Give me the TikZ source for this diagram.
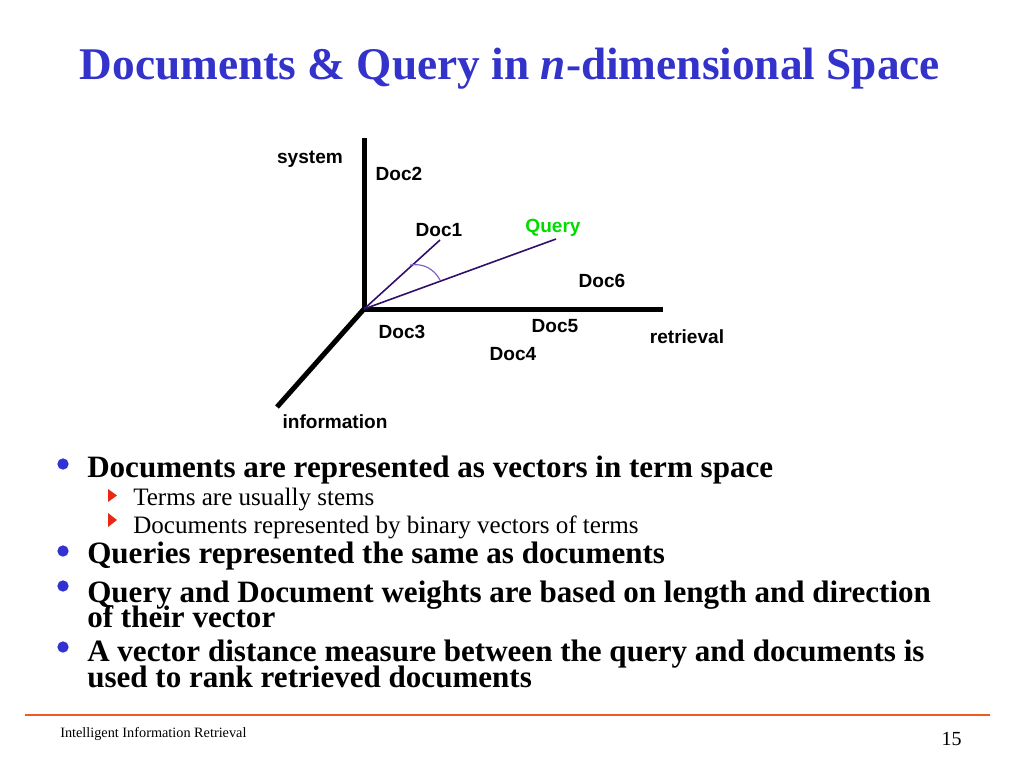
\documentclass[tikz,border=0pt]{standalone}
\usepackage{fontspec}
\setmainfont{Liberation Serif}
\newfontfamily\labfont{Liberation Sans}
\definecolor{titleblue}{RGB}{51,51,204}
\definecolor{vecpurple}{RGB}{48,16,110}
\definecolor{arcpurple}{RGB}{130,100,200}
\definecolor{qgreen}{RGB}{0,220,0}
\definecolor{footorange}{RGB}{240,90,30}
\definecolor{bulblue}{RGB}{50,50,210}
\definecolor{subred}{RGB}{230,40,20}
\begin{document}
\begin{tikzpicture}[x=0.75pt,y=-0.75pt,
  lab/.style={font=\labfont\bfseries\fontsize{14.3}{16}\selectfont, inner sep=0pt},
  axis/.style={line width=3.75pt, line join=miter},
  vec/.style={line width=1.2pt, color=vecpurple},
  main/.style={font=\bfseries\fontsize{23.3}{26}\selectfont, anchor=base west, inner sep=0pt},
  sub/.style={font=\fontsize{18.8}{22}\selectfont, anchor=base west, inner sep=0pt},
  bdot/.style={circle, fill=bulblue, minimum size=8.5pt, inner sep=0pt},
  tri/.style={fill=subred, draw=none}
]
\useasboundingbox (0,0) rectangle (1024,768);
\fill[white] (0,0) rectangle (1024,768);

% title
\node[anchor=base, inner sep=0pt, text=titleblue, font=\bfseries\fontsize{34}{40}\selectfont] (title) at (510,79)
  {Documents \& Query in \textit{n}-dimensional Space};

% axes
\coordinate (O) at (364,309);
\coordinate (Ysys) at (364,138);
\coordinate (Xret) at (663,309);
\coordinate (Zinf) at (277,407);
\draw[axis] (Ysys) -- (O) -- (Xret);
\draw[axis] (O) -- (Zinf);

% vectors
\coordinate (D1) at (440,240);
\coordinate (Q) at (556,239);
\draw[vec] (O) -- (D1);
\draw[vec] (O) -- (Q);
\coordinate (A1) at (410,265);
\coordinate (A2) at (440,280);
\draw[arcpurple, line width=0.9pt] (A1) to[bend left=35] (A2);

% labels
\node[lab] (system) at (310,159) {system};
\node[lab] (doc2) at (399,174) {Doc2};
\node[lab] (doc1) at (439,230) {Doc1};
\node[lab, text=qgreen] (query) at (553,228) {Query};
\node[lab] (doc6) at (602,281) {Doc6};
\node[lab] (doc3) at (402,332) {Doc3};
\node[lab] (doc5) at (555,326) {Doc5};
\node[lab] (retrieval) at (687,337) {retrieval};
\node[lab] (doc4) at (513,354) {Doc4};
\node[lab] (information) at (335,422) {information};

% bullets
\node[bdot] (b1) at (63,464) {};
\node[main] (t1) at (87,477) {Documents are represented as vectors in term space};
\fill[tri] (108,489) -- (117,495.5) -- (108,502) -- cycle;
\node[sub] (s1) at (133,505) {Terms are usually stems};
\fill[tri] (108,513) -- (117,520) -- (108,527) -- cycle;
\node[sub] (s2) at (133,533) {Documents represented by binary vectors of terms};
\node[bdot] (b2) at (63,551) {};
\node[main] (t2) at (87,563) {Queries represented the same as documents};
\node[bdot] (b3) at (63,586) {};
\node[main] (t3a) at (87,602) {Query and Document weights are based on length and direction};
\node[main] (t3b) at (87,627) {of their vector};
\node[bdot] (b4) at (63,647) {};
\node[main] (t4a) at (87,661) {A vector distance measure between the query and documents is};
\node[main] (t4b) at (87,687) {used to rank retrieved documents};

% footer
\coordinate (FL) at (25,715);
\coordinate (FR) at (990,715);
\draw[footorange, line width=1.3pt] (FL) -- (FR);
\node[anchor=base west, inner sep=0pt, font=\fontsize{10.7}{12}\selectfont] (foot) at (60,737) {Intelligent Information Retrieval};
\node[anchor=base east, inner sep=0pt, font=\fontsize{15}{17}\selectfont] (page) at (962,745) {15};
\end{tikzpicture}
\end{document}
